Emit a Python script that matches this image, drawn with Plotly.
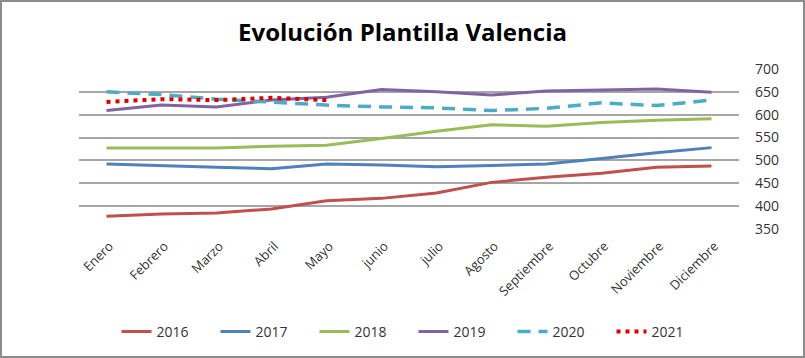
import plotly.graph_objects as go

months = ["Enero", "Febrero", "Marzo", "Abril", "Mayo", "junio", "julio",
          "Agosto", "Septiembre", "Octubre", "Noviembre", "Diciembre"]
y2016 = [378, 383, 385, 394, 412, 417, 429, 452, 463, 472, 485, 488]
y2017 = [492, 488, 485, 482, 492, 490, 486, 489, 492, 504, 517, 528]
y2018 = [527, 527, 527, 531, 533, 548, 564, 578, 575, 583, 588, 591]
y2019 = [609, 621, 617, 632, 638, 655, 650, 643, 652, 654, 656, 649]
y2020 = [650, 644, 634, 628, 621, 617, 615, 609, 614, 626, 620, 632]
y2021 = [628, 634, 632, 637, 632]
yticks = [350, 400, 450, 500, 550, 600, 650, 700]

series = [
    ("2016", y2016, "#C0504D", "solid", 3),
    ("2017", y2017, "#4F81BD", "solid", 3),
    ("2018", y2018, "#9BBB59", "solid", 3),
    ("2019", y2019, "#8064A2", "solid", 3),
    ("2020", y2020, "#4BACC6", "13px,8px", 3.5),
    ("2021", y2021, "#E00000", "4px,5px", 4),
]

fig = go.Figure()
for name, vals, color, dash, w in series:
    fig.add_trace(go.Scatter(
        x=months[:len(vals)], y=vals, name=name, mode="lines",
        line=dict(color=color, width=w, dash=dash),
    ))

W, H = 805, 358
ml, mr, mt, mb = 79, 66, 69, 129
pw, ph = W - ml - mr, H - mt - mb

fig.update_layout(
    width=W, height=H,
    margin=dict(l=ml, r=mr, t=mt, b=mb, autoexpand=False),
    paper_bgcolor="white", plot_bgcolor="white",
    title=dict(text="<b>Evolución Plantilla Valencia</b>", x=0.5, xanchor="center",
               y=1 - 33 / H, yanchor="middle",
               font=dict(family="Open Sans", size=24, color="#000000")),
    font=dict(family="Open Sans", size=13, color="#333333"),
    showlegend=True,
    legend=dict(orientation="h", xref="container", yref="container",
                x=0.5 + 11 / W, xanchor="center", y=1 - 332 / H, yanchor="middle",
                font=dict(size=14, color="#333333"), entrywidth=54,
                traceorder="normal"),
)
fig.update_xaxes(
    type="category", categoryorder="array", categoryarray=months,
    range=[-0.5, 11.5], tickangle=-45, showgrid=False, zeroline=False,
    showline=False, ticks="", automargin=False,
    ticklabelstandoff=6, ticklabelshift=3,
    tickfont=dict(size=13, color="#333333"),
)
fig.update_yaxes(
    side="right", range=[350, 700], tickvals=yticks, ticktext=[str(t) for t in yticks],
    showgrid=True, gridcolor="#A6A6A6", gridwidth=2, zeroline=False, showline=False,
    ticks="", automargin=False, ticklabelstandoff=15,
    tickfont=dict(size=14, color="#333333"),
)

# outer chart frame
fig.add_shape(type="rect", xref="paper", yref="paper",
              x0=(1 - ml) / pw, x1=(W - 1 - ml) / pw,
              y0=-(mb - 1) / ph, y1=1 + (mt - 1) / ph,
              line=dict(color="#8C8C8C", width=2), fillcolor="rgba(0,0,0,0)", layer="below")

fig.write_html("out.html", config={"displayModeBar": False},
               post_script="document.body.style.margin='0px';document.body.style.overflow='hidden';")
